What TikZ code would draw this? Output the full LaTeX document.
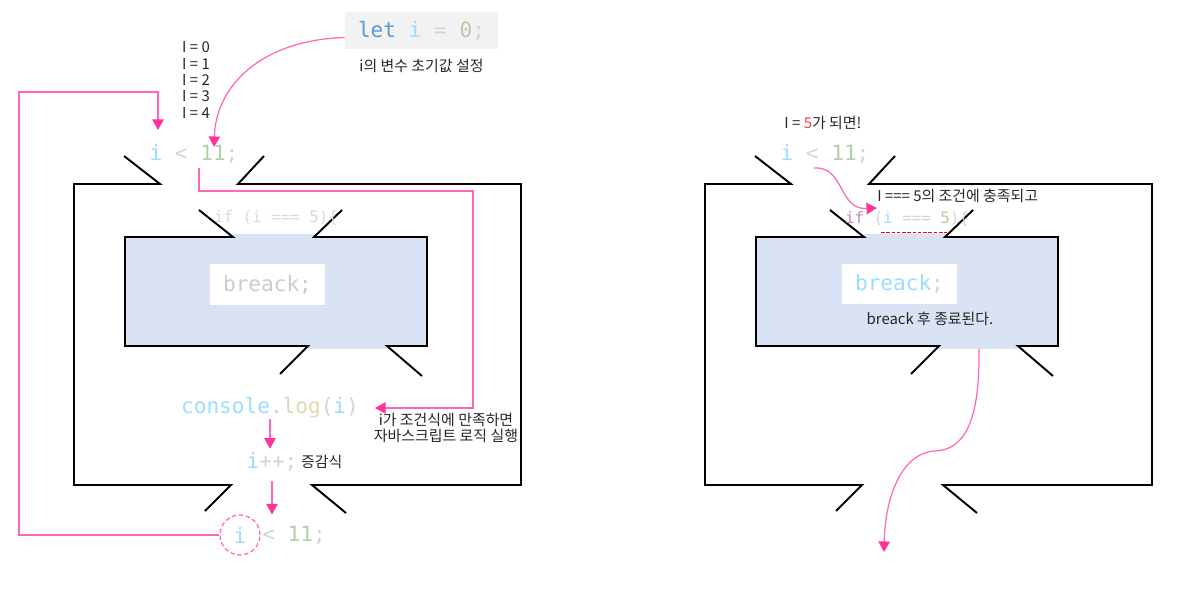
\documentclass[tikz,border=0pt]{standalone}
\usepackage{fontspec}
\setmonofont{DejaVu Sans Mono}
\newfontfamily\krfont{Noto Sans CJK KR}
\usetikzlibrary{arrows.meta,positioning}

\definecolor{hotpink}{HTML}{FF66B5}
\definecolor{tippink}{HTML}{FF3399}
\definecolor{codeblue}{HTML}{569CD6}
\definecolor{codevar}{HTML}{9CDCFE}
\definecolor{codenum}{HTML}{B5CEA8}
\definecolor{codepun}{HTML}{D4D4D4}
\definecolor{codefn}{HTML}{DCDCAA}
\definecolor{codekey}{HTML}{C586C0}
\definecolor{fadegray}{HTML}{DADADA}
\definecolor{brkgray}{HTML}{CCCCCC}
\definecolor{numred}{HTML}{FF3B3B}
\definecolor{blockfill}{HTML}{DAE3F3}
\definecolor{letfill}{HTML}{F2F2F2}

\begin{document}
\begin{tikzpicture}[
x=0.02cm, y=-0.02cm,
code/.style={inner sep=0pt, font=\ttfamily\fontsize{12pt}{14pt}\selectfont},
smallcode/.style={inner sep=0pt, font=\ttfamily\fontsize{9pt}{11pt}\selectfont},
note/.style={inner sep=0pt, align=center, text=black!85, font=\krfont\fontsize{8.5pt}{9.3pt}\selectfont},
frame/.style={line width=1.1pt},
link/.style={draw=hotpink, line width=0.7pt, -{Triangle[length=6pt,width=6.5pt,color=tippink]}},
codebox/.style={fill=white, minimum width=2.3cm, minimum height=0.82cm}
]

\useasboundingbox (0,0) rectangle (1180,591);

\foreach \ox in {0,631}{
\fill[blockfill] (\ox+125,237) rectangle (\ox+427,346);
\fill[blockfill] (\ox+233,234) rectangle (\ox+314,237);
\fill[blockfill] (\ox+308,346) rectangle (\ox+387,349);
\draw[frame] (\ox+124,156) -- (\ox+160,184) -- (\ox+74,184) -- (\ox+74,485) -- (\ox+231,485) -- (\ox+205,511);
\draw[frame] (\ox+264,156) -- (\ox+238,184) -- (\ox+521,184) -- (\ox+521,485) -- (\ox+312,485) -- (\ox+346,513);
\draw[frame] (\ox+199,210) -- (\ox+233,237) -- (\ox+125,237) -- (\ox+125,346) -- (\ox+308,346) -- (\ox+280,374);
\draw[frame] (\ox+342,210) -- (\ox+314,237) -- (\ox+427,237) -- (\ox+427,346) -- (\ox+387,346) -- (\ox+422,376);
}

\node[code, fill=letfill, minimum width=3.06cm, minimum height=0.74cm] (letbox) at (421.5,30.5)
{\textcolor{codeblue}{let} \textcolor{codevar}{i} \textcolor{codepun}{=} \textcolor{codenum}{0}\textcolor{codepun}{;}};

\node[note, below=0.18cm of letbox] (letnote)
{i의 변수 초기값 설정};

\node[note, align=left] (ivals) at (196,80)
{I = 0\\I = 1\\I = 2\\I = 3\\I = 4};

\node[code] (cond1) at (194,154)
{\textcolor{codevar}{i} \textcolor{codepun}{<} \textcolor{codenum}{11}\textcolor{codepun}{;}};

\node[smallcode, text=fadegray] (ifleft) at (276,218)
{if (i === 5)\{};

\node[code, codebox, text=brkgray] (brkleft) at (267.5,284.5)
{breack;};

\node[code] (log) at (270,408)
{\textcolor{codevar}{console}\textcolor{codepun}{.}\textcolor{codefn}{log}\textcolor{codepun}{(}\textcolor{codevar}{i}\textcolor{codepun}{)}};

\node[note] (lognote) at (446,428)
{i가 조건식에 만족하면\\자바스크립트 로직 실행};

\node[code] (inc) at (272,462)
{\textcolor{codevar}{i}\textcolor{codepun}{++;}};

\node[note, right=0.06cm of inc] (incnote)
{증감식};

\node[code, circle, draw=hotpink, line width=0.7pt, dash pattern=on 2.5pt off 1.5pt, minimum size=0.8cm] (icirc) at (240,535)
{\textcolor{codevar}{i}};

\node[code, anchor=west] (cond2) at (262,535)
{\textcolor{codepun}{<} \textcolor{codenum}{11}\textcolor{codepun}{;}};

\node[note] (hit) at (823,123)
{I = \textcolor{numred}{5}가 되면!};

\node[code] (cond3) at (825,154)
{\textcolor{codevar}{i} \textcolor{codepun}{<} \textcolor{codenum}{11}\textcolor{codepun}{;}};

\node[note, anchor=west] (hitnote) at (877,196)
{I === 5의 조건에 충족되고};

\node[smallcode] (ifright) at (907,219)
{\textcolor{codekey}{if} \textcolor{codepun}{(}\textcolor{codevar}{i} \textcolor{codepun}{===} \textcolor{codenum}{5}\textcolor{codepun}{)\{}};

\draw[red, line width=0.5pt, dash pattern=on 2pt off 1pt] (881,232) -- (947,232);

\node[code, codebox] (brkright) at (899.5,284)
{\textcolor{codevar}{breack}\textcolor{codepun}{;}};

\node[note] (brknote) at (930,319)
{breack 후 종료된다.};

\coordinate (top11) at (214,147);
\coordinate (back) at (158,130);
\coordinate (tail) at (199,168);
\coordinate (s3) at (814,168);
\coordinate (t3) at (877,208);
\coordinate (out) at (979,349);
\coordinate (exit) at (884,552);

\draw[link] ([yshift=-4pt]letbox.west) .. controls (262,40) and (216,85) .. (top11);

\draw[link] (icirc.west) -| (19,92) -| (back);

\draw[link] (tail) |- (473,191) |- ([xshift=9pt]log.east);

\draw[link, shorten >=2pt] (log.south) -- (log.south |- inc.north);

\draw[link, shorten <=5pt] (inc.south) -- (inc.south |- icirc.north);

\draw[link] (s3) .. controls (845,166) and (838,210) .. (t3);

\draw[link] (out) .. controls (980,420) and (965,450) .. (935,451) .. controls (900,453) and (885,500) .. (exit);

\end{tikzpicture}
\end{document}
